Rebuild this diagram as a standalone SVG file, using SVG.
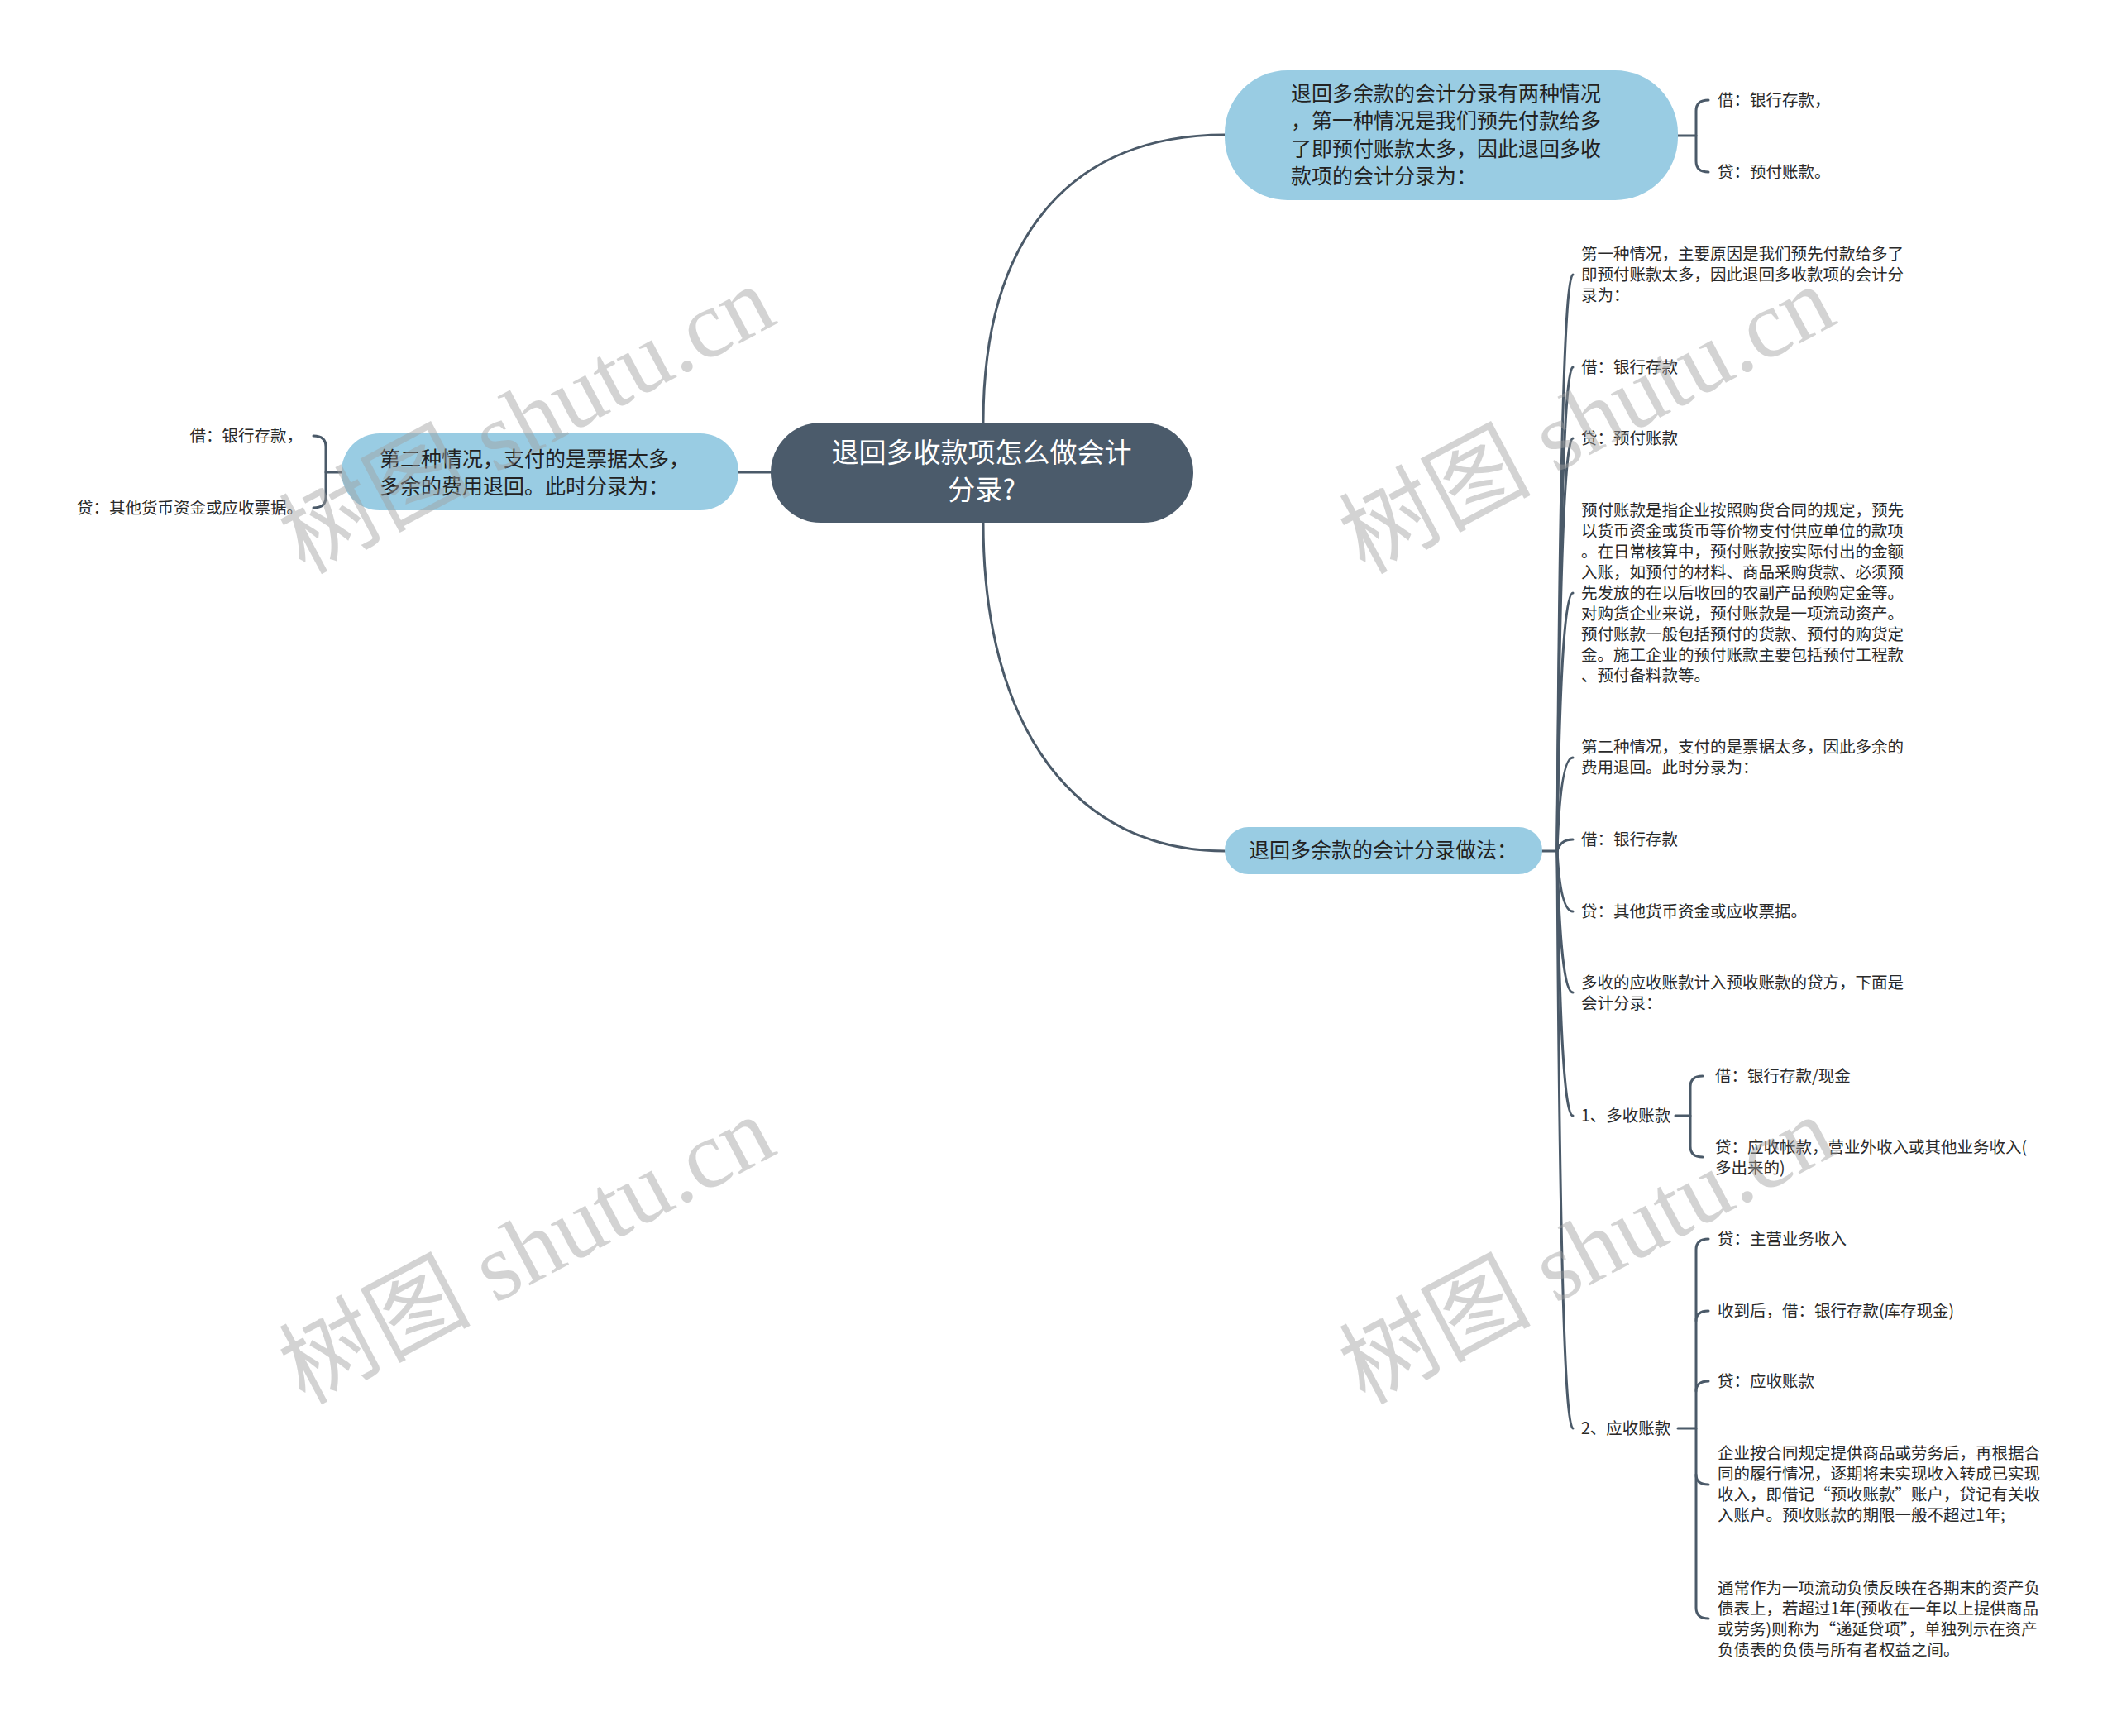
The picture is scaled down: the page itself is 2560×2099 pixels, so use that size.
<svg xmlns="http://www.w3.org/2000/svg" width="2560" height="2099" viewBox="0 0 2560 2099">
<style>
.conn{fill:none;stroke:#4b5a69;stroke-width:3;stroke-linecap:round;}
.root{fill:#4b5b6b;}
.sub{fill:#99cce3;}
.rt{font-family:"Noto Sans CJK SC",sans-serif;font-size:33px;fill:#ffffff;}
.st{font-family:"Noto Sans CJK SC",sans-serif;font-size:25px;fill:#222222;}
.lt{font-family:"Noto Sans CJK SC",sans-serif;font-size:19.5px;fill:#2a2a2a;}
.wm{font-family:"Liberation Serif","Noto Sans CJK SC",serif;font-size:116px;fill:#a0a0a0;opacity:0.45;}
</style>
<rect width="2560" height="2099" fill="#ffffff"/>

<g id="connectors">
  <path class="conn" d="M 1189 511 C 1189 280 1300 163 1481 163"/>
  <path class="conn" d="M 1189 632 C 1189 880 1300 1029 1481 1029"/>
  <path class="conn" d="M 932 571 H 893"/>
  <path class="conn" d="M 2029 164 H 2051"/>
  <path class="conn" d="M 2066 121 Q 2051 121 2051 134 V 195 Q 2051 208 2066 208"/>
  <path class="conn" d="M 413 571 H 394"/>
  <path class="conn" d="M 379 527 Q 394 527 394 540 V 601 Q 394 614 379 614"/>
  <path class="conn" d="M 1865 1029 H 1883"/>
  <path class="conn" d="M 1883 1029 Q 1887 332 1902 332"/>
  <path class="conn" d="M 1883 1029 Q 1887 444 1902 444"/>
  <path class="conn" d="M 1883 1029 Q 1887 530 1902 530"/>
  <path class="conn" d="M 1883 1029 Q 1887 717 1902 717"/>
  <path class="conn" d="M 1883 1029 Q 1887 916 1902 916"/>
  <path class="conn" d="M 1883 1029 Q 1887 1015 1902 1015"/>
  <path class="conn" d="M 1883 1029 Q 1887 1102 1902 1102"/>
  <path class="conn" d="M 1883 1029 Q 1887 1200 1902 1200"/>
  <path class="conn" d="M 1883 1029 Q 1887 1349 1902 1349"/>
  <path class="conn" d="M 1883 1029 Q 1887 1727 1902 1727"/>
  <path class="conn" d="M 2026 1349 H 2044"/>
  <path class="conn" d="M 2059 1301 Q 2044 1301 2044 1314 V 1386 Q 2044 1399 2059 1399"/>
  <path class="conn" d="M 2029 1727 H 2051"/>
  <path class="conn" d="M 2066 1498 Q 2051 1498 2051 1511 V 1944 Q 2051 1957 2066 1957"/>
  <path class="conn" d="M 2051 1597 Q 2051 1585 2066 1585"/>
  <path class="conn" d="M 2051 1682 Q 2051 1670 2066 1670"/>
  <path class="conn" d="M 2051 1783 Q 2051 1795 2066 1795"/>
</g>

<g id="root">
  <rect class="root" x="932" y="511" width="511" height="121" rx="60.5"/>
  <text class="rt" text-anchor="middle"><tspan x="1187" y="559">退回多收款项怎么做会计</tspan><tspan x="1187" y="604">分录?</tspan></text>
</g>

<g id="tr1">
  <rect class="sub" x="1481" y="85" width="548" height="157" rx="76"/>
  <text class="st"><tspan x="1561" y="122">退回多余款的会计分录有两种情况</tspan><tspan x="1561" y="155">，第一种情况是我们预先付款给多</tspan><tspan x="1561" y="189">了即预付账款太多，因此退回多收</tspan><tspan x="1561" y="222">款项的会计分录为：</tspan></text>
</g>
<g id="tr1-a"><text class="lt" x="2077" y="128">借：银行存款，</text></g>
<g id="tr1-b"><text class="lt" x="2077" y="215">贷：预付账款。</text></g>

<g id="l1">
  <rect class="sub" x="413" y="524" width="480" height="93" rx="46"/>
  <text class="st"><tspan x="459" y="564">第二种情况，支付的是票据太多，</tspan><tspan x="459" y="597">多余的费用退回。此时分录为：</tspan></text>
</g>
<g id="l1-a"><text class="lt" x="366" y="534" text-anchor="end">借：银行存款，</text></g>
<g id="l1-b"><text class="lt" x="366" y="621" text-anchor="end">贷：其他货币资金或应收票据。</text></g>

<g id="b1">
  <rect class="sub" x="1481" y="1000" width="384" height="57" rx="28.5"/>
  <text class="st" x="1510" y="1037">退回多余款的会计分录做法：</text>
</g>

<g id="c1"><text class="lt"><tspan x="1912" y="314">第一种情况，主要原因是我们预先付款给多了</tspan><tspan x="1912" y="339">即预付账款太多，因此退回多收款项的会计分</tspan><tspan x="1912" y="364">录为：</tspan></text></g>
<g id="c2"><text class="lt" x="1912" y="451">借：银行存款</text></g>
<g id="c3"><text class="lt" x="1912" y="537">贷：预付账款</text></g>
<g id="c4"><text class="lt"><tspan x="1912" y="624">预付账款是指企业按照购货合同的规定，预先</tspan><tspan x="1912" y="649">以货币资金或货币等价物支付供应单位的款项</tspan><tspan x="1912" y="674">。在日常核算中，预付账款按实际付出的金额</tspan><tspan x="1912" y="699">入账，如预付的材料、商品采购货款、必须预</tspan><tspan x="1912" y="724">先发放的在以后收回的农副产品预购定金等。</tspan><tspan x="1912" y="749">对购货企业来说，预付账款是一项流动资产。</tspan><tspan x="1912" y="774">预付账款一般包括预付的货款、预付的购货定</tspan><tspan x="1912" y="799">金。施工企业的预付账款主要包括预付工程款</tspan><tspan x="1912" y="824">、预付备料款等。</tspan></text></g>
<g id="c5"><text class="lt"><tspan x="1912" y="910">第二种情况，支付的是票据太多，因此多余的</tspan><tspan x="1912" y="935">费用退回。此时分录为：</tspan></text></g>
<g id="c6"><text class="lt" x="1912" y="1022">借：银行存款</text></g>
<g id="c7"><text class="lt" x="1912" y="1109">贷：其他货币资金或应收票据。</text></g>
<g id="c8"><text class="lt"><tspan x="1912" y="1195">多收的应收账款计入预收账款的贷方，下面是</tspan><tspan x="1912" y="1220">会计分录：</tspan></text></g>
<g id="c9"><text class="lt" x="1912" y="1356">1、多收账款</text></g>
<g id="c9-a"><text class="lt" x="2074" y="1308">借：银行存款/现金</text></g>
<g id="c9-b"><text class="lt"><tspan x="2074" y="1394">贷：应收帐款，营业外收入或其他业务收入(</tspan><tspan x="2074" y="1419">多出来的)</tspan></text></g>
<g id="c10"><text class="lt" x="1912" y="1734">2、应收账款</text></g>
<g id="c10-a"><text class="lt" x="2077" y="1505">贷：主营业务收入</text></g>
<g id="c10-b"><text class="lt" x="2077" y="1592">收到后，借：银行存款(库存现金)</text></g>
<g id="c10-c"><text class="lt" x="2077" y="1677">贷：应收账款</text></g>
<g id="c10-d"><text class="lt"><tspan x="2077" y="1764">企业按合同规定提供商品或劳务后，再根据合</tspan><tspan x="2077" y="1789">同的履行情况，逐期将未实现收入转成已实现</tspan><tspan x="2077" y="1814">收入，即借记“预收账款”账户，贷记有关收</tspan><tspan x="2077" y="1839">入账户。预收账款的期限一般不超过1年;</tspan></text></g>
<g id="c10-e"><text class="lt"><tspan x="2077" y="1927">通常作为一项流动负债反映在各期末的资产负</tspan><tspan x="2077" y="1952">债表上，若超过1年(预收在一年以上提供商品</tspan><tspan x="2077" y="1977">或劳务)则称为“递延贷项”，单独列示在资产</tspan><tspan x="2077" y="2002">负债表的负债与所有者权益之间。</tspan></text></g>

<g id="watermarks">
  <text class="wm" transform="translate(368 695) rotate(-28)">树图 shutu.cn</text>
  <text class="wm" transform="translate(1650 695) rotate(-28)">树图 shutu.cn</text>
  <text class="wm" transform="translate(368 1699) rotate(-28)">树图 shutu.cn</text>
  <text class="wm" transform="translate(1650 1699) rotate(-28)">树图 shutu.cn</text>
</g>
</svg>
